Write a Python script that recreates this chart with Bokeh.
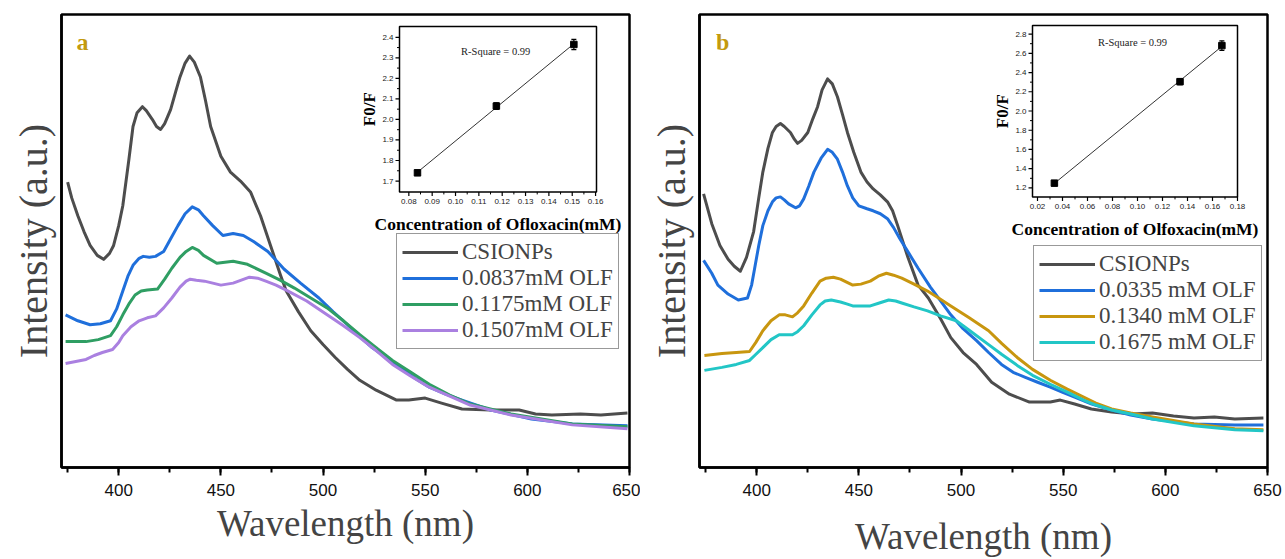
import numpy as np
from bokeh.plotting import figure
from bokeh.models import Range1d, Legend, LegendItem, SingleIntervalTicker, FixedTicker
from bokeh.layouts import row
from bokeh.embed import file_html
from bokeh.resources import INLINE
from bokeh.core.properties import value

# ---------------- data: panel a ----------------
wl_a_cs = [375, 377, 380, 383, 386, 389.5, 392.6, 395.5, 397.5, 400, 402, 405, 407, 409, 411.6, 413.5, 416.5,
           418.5, 420.5, 422.5, 425.4, 428, 430, 432.5, 434.7, 437, 440, 442.5, 445, 450, 454.7, 459.6, 464.5,
           469.4, 474.3, 479.2, 482, 488, 494, 500, 506, 512, 518, 526, 536, 542, 550, 558, 568, 582, 596,
           604, 612, 626, 636, 649]
int_a_cs = [288, 272, 254, 238, 224, 214, 210, 216, 224, 244, 264, 311, 344, 358, 364, 360, 351, 344, 341, 347,
            361, 380, 394, 408, 415, 409, 394, 370, 344, 314, 298, 289, 278, 254, 224, 194, 178, 157, 138, 124,
            111, 99, 88, 78, 68, 68, 70, 65, 59, 58, 58, 54, 53, 54, 53, 55]

wl_a_1 = [374, 380, 386, 391, 396, 399, 402, 404.5, 407, 410, 412, 415, 418, 422, 425.5, 429, 432.5, 436, 439,
          441.5, 446, 451, 456, 461, 466, 473, 481, 489, 498, 505, 512, 518, 524, 531, 538, 545, 552, 560, 568,
          582, 602, 622, 649]
int_a_1 = [154, 148, 144, 145, 148, 160, 178, 193, 204, 211, 213, 212, 213, 218, 231, 244, 256, 263, 260,
           254, 244, 234, 236, 234, 228, 218, 200, 186, 171, 157, 144, 132, 121, 111, 101, 90, 81, 74, 68,
           58, 49, 44, 42]

wl_a_2 = [374, 384, 390, 396, 399, 402, 405, 408, 411, 414, 419, 422.5, 426, 430, 433, 436, 439, 441.5, 448, 456,
          463, 472, 479, 486, 494, 502, 510, 518, 526, 534, 543, 552, 562, 572, 592, 622, 649]
int_a_2 = [127, 127, 129, 133, 142, 154, 165, 174, 178, 179, 180, 190, 201, 212, 218, 222, 219, 214, 206, 208,
           205, 196, 189, 181, 171, 161, 148, 134, 121, 108, 96, 84, 73, 64, 54, 44, 41]

wl_a_3 = [374, 379, 384, 388, 392, 397, 400, 402, 406, 410, 414, 418, 422, 426, 430, 433, 435, 438, 442, 446, 450,
          456, 460, 464, 468, 472, 477, 482, 492, 502, 510, 518, 526, 534, 543, 552, 562, 572, 592, 622, 649]
int_a_3 = [105, 107, 109, 113, 116, 119, 126, 133, 142, 148, 151, 153, 161, 171, 182, 188, 190, 189, 188, 186,
           184, 186, 189, 192, 191, 188, 184, 179, 168, 154, 143, 131, 118, 104, 92, 81, 72, 63, 53, 43, 39]

labels_a = ["CSIONPs", "0.0837mM OLF", "0.1175mM OLF", "0.1507mM OLF"]

conc_a = [0.0837, 0.1175, 0.1507]
ratio_a = [1.74, 2.065, 2.365]
err_a = [0.006, 0.016, 0.025]
xt_a = [0.08, 0.09, 0.10, 0.11, 0.12, 0.13, 0.14, 0.15, 0.16]
xt_a_lab = ["0.08", "0.09", "0.10", "0.11", "0.12", "0.13", "0.14", "0.15", "0.16"]
yt_a = [1.7, 1.8, 1.9, 2.0, 2.1, 2.2, 2.3, 2.4]
yt_a_lab = ["1.7", "1.8", "1.9", "2.0", "2.1", "2.2", "2.3", "2.4"]
xlim_a = [0.076, 0.1604]
ylim_a = [1.647, 2.453]

# ---------------- data: panel b ----------------
wl_b_cs = [374, 378, 382, 386, 389, 392, 395, 398.5, 401, 403, 405.5, 407.7, 409.5, 411.6, 413.5, 416.5, 418.5,
           420, 422, 425, 427.5, 429.8, 432, 434.7, 437, 439.5, 442, 444.4, 447.5, 451, 454, 457, 460.5, 464,
           466.5, 469, 471.5, 474, 479, 484, 490, 495, 501, 507.6, 515, 523.7, 533.5, 543.7, 548.6, 555.6,
           563.8, 573.7, 584, 593.7, 604, 614, 624, 634, 648]
int_b_cs = [276, 246, 224, 210, 203, 198, 212, 238, 272, 298, 322, 338, 344, 347, 344, 338, 331, 327, 330, 338,
            352, 364, 381, 392, 387, 374, 356, 338, 318, 298, 288, 281, 275, 268, 259, 244, 228, 212, 184, 171,
            150, 131, 116, 104, 86, 74, 66, 66, 68, 64, 59, 56, 54, 55, 52, 50, 51, 49, 50]

wl_b_1 = [374, 378, 381, 386, 391, 395.5, 397.5, 399, 401, 403, 405.5, 407.7, 409.5, 411.6, 413.5, 415.6, 419,
          421, 423, 425.5, 428, 431.5, 434.7, 437, 439.5, 442, 444.4, 447, 450, 454, 457, 460.5, 464, 467, 470,
          474.5, 479, 485, 490, 495, 501, 507.6, 513.5, 519.8, 525.5, 531.5, 537.5, 543.7, 549.5, 555.6, 564,
          573.7, 583, 593.7, 614, 634, 648]
int_b_1 = [209, 196, 184, 175, 169, 171, 184, 201, 224, 244, 259, 268, 272, 273, 270, 266, 262, 264, 271, 284,
           298, 312, 321, 318, 311, 298, 284, 272, 264, 261, 259, 256, 251, 242, 231, 216, 201, 182, 168, 154,
           140, 128, 116, 104, 96, 91, 86, 81, 76, 71, 64, 58, 53, 49, 44, 43, 43]

wl_b_2 = [374.4, 383, 390, 396.5, 399.5, 403, 407, 411, 414, 417.5, 420, 423, 427, 431, 434, 437.5, 441, 444,
          447, 451, 455.6, 459.5, 463.5, 467, 471, 477, 483.6, 489, 495, 504, 513.5, 520, 527.5, 535, 543.7,
          552, 560, 566, 573.7, 583, 593.7, 614, 634, 648]
int_b_2 = [113, 115, 116, 117, 126, 138, 148, 154, 154, 152, 156, 163, 176, 188, 191, 192, 190, 187, 184, 185,
           188, 193, 196, 194, 191, 185, 178, 171, 163, 151, 138, 125, 111, 99, 88, 79, 71, 65, 59, 55, 51, 44,
           39, 38]

wl_b_3 = [374.4, 383, 390, 396.5, 399.5, 403, 407, 411, 414, 417.5, 420, 423, 427, 431, 433.5, 436.5, 441, 444,
          447, 451, 455.6, 460, 464.6, 468, 471, 477, 483.6, 490, 497.7, 505, 513.5, 520, 527.5, 535, 543.7,
          552, 560, 566, 573.7, 583, 593.7, 614, 634, 648]
int_b_3 = [98, 101, 104, 108, 114, 121, 129, 134, 134, 134, 137, 143, 154, 164, 168, 169, 167, 165, 163, 163,
           163, 166, 169, 168, 166, 162, 158, 153, 148, 137, 124, 114, 103, 93, 84, 76, 68, 63, 58, 54, 49, 42,
           38, 37]

labels_b = ["CSIONPs", "0.0335 mM OLF", "0.1340 mM OLF", "0.1675 mM OLF"]

conc_b = [0.0335, 0.134, 0.1675]
ratio_b = [1.25, 2.305, 2.68]
err_b = [0.015, 0.03, 0.05]
xt_b = [0.02, 0.04, 0.06, 0.08, 0.10, 0.12, 0.14, 0.16, 0.18]
xt_b_lab = ["0.02", "0.04", "0.06", "0.08", "0.10", "0.12", "0.14", "0.16", "0.18"]
yt_b = [1.2, 1.4, 1.6, 1.8, 2.0, 2.2, 2.4, 2.6, 2.8]
yt_b_lab = ["1.2", "1.4", "1.6", "1.8", "2.0", "2.2", "2.4", "2.6", "2.8"]
xlim_b = [0.016, 0.18]
ylim_b = [1.107, 2.89]

# ---------------- styling ----------------
SERIF = "Liberation Serif"
SANS = "Liberation Sans"
colors_a = ["#4d4d4d", "#1f6fdb", "#2f9e63", "#aa80e0"]
colors_b = ["#4d4d4d", "#1f6fdb", "#c8960f", "#22c6c6"]
FW, FH = 568, 457


def ext_range(d0, d1, p0, p1, total):
    s = (d1 - d0) / (p1 - p0)
    return Range1d(d0 - p0 * s, d1 + (total - p1) * s)


def panel(width, left, right, xstand, series, labels, colors, tag, tagx, leg_loc,
          conc, ratio, err, xt, xtl, yt, ytl, xlim, ylim, box, xlabel, rsq_xy):
    p = figure(width=width, height=559, x_range=Range1d(372, 650), y_range=Range1d(0, 457),
               output_backend="svg", toolbar_location=None,
               min_border_left=left, min_border_right=right, min_border_top=14, min_border_bottom=88)
    p.xgrid.visible = False
    p.ygrid.visible = False
    p.outline_line_color = "black"
    p.outline_line_width = 2.5
    p.outline_line_alpha = 1
    p.background_fill_color = "white"
    p.border_fill_color = "white"

    xa = p.xaxis[0]
    xa.ticker = SingleIntervalTicker(interval=50, num_minor_ticks=2)
    xa.axis_line_width = 2.5
    xa.major_tick_out = 8
    xa.major_tick_in = 0
    xa.minor_tick_out = 5
    xa.minor_tick_in = 0
    xa.major_tick_line_width = 2
    xa.minor_tick_line_width = 2
    xa.major_label_text_font = SANS
    xa.major_label_text_font_size = "17px"
    xa.major_label_text_color = "#111111"
    xa.major_label_standoff = 8
    xa.axis_label = "Wavelength (nm)"
    xa.axis_label_text_font = SERIF
    xa.axis_label_text_font_style = "normal"
    xa.axis_label_text_font_size = "37px"
    xa.axis_label_standoff = xstand

    ya = p.yaxis[0]
    ya.ticker = FixedTicker(ticks=[])
    ya.axis_line_width = 2.5
    ya.major_tick_out = 0
    ya.minor_tick_out = 0
    ya.axis_label = "Intensity (a.u.)"
    ya.axis_label_text_font = SERIF
    ya.axis_label_text_font_style = "normal"
    ya.axis_label_text_font_size = "40px"
    ya.axis_label_standoff = 6

    items = []
    for (wl, it), lab, c in zip(series, labels, colors):
        r = p.line(wl, it, line_color=c, line_width=3, line_join="round")
        items.append(LegendItem(label=lab, renderers=[r]))
    leg = Legend(items=items, location=leg_loc, label_text_font=SERIF, label_text_font_size="23px",
                 glyph_width=56, glyph_height=22, label_height=26, spacing=0, padding=5, margin=0,
                 label_standoff=4, border_line_color="#333333", border_line_width=1,
                 background_fill_color="white", background_fill_alpha=1)
    p.add_layout(leg)

    p.text(x=[tagx], y=[429], text=[tag], text_font=value(SERIF), text_font_style="bold",
           text_font_size="24px", text_color="#c39a0e", text_align="center", text_baseline="middle")

    # ---- inset ----
    bl, br, bt, bb = box
    p.extra_x_ranges = {"ix": ext_range(xlim[0], xlim[1], bl, br, FW)}
    p.extra_y_ranges = {"iy": ext_range(ylim[0], ylim[1], FH - bb, FH - bt, FH)}
    kw = dict(x_range_name="ix", y_range_name="iy")
    p.quad(left=[xlim[0]], right=[xlim[1]], bottom=[ylim[0]], top=[ylim[1]], fill_color="white",
           line_color="black", line_width=1.5, **kw)
    nx, ny = len(xt), len(yt)
    p.ray(x=xt, y=[ylim[0]] * nx, length=4, length_units="screen", angle=-np.pi / 2,
          line_color="black", line_width=1.2, **kw)
    xm = [(a + b) / 2 for a, b in zip(xt[:-1], xt[1:])]
    p.ray(x=xm, y=[ylim[0]] * len(xm), length=2.5, length_units="screen", angle=-np.pi / 2,
          line_color="black", line_width=1, **kw)
    p.ray(x=[xlim[0]] * ny, y=yt, length=4, length_units="screen", angle=np.pi,
          line_color="black", line_width=1.2, **kw)
    ym = [(a + b) / 2 for a, b in zip(yt[:-1], yt[1:])]
    p.ray(x=[xlim[0]] * len(ym), y=ym, length=2.5, length_units="screen", angle=np.pi,
          line_color="black", line_width=1, **kw)
    p.text(x=xt, y=[ylim[0]] * nx, text=xtl, y_offset=7, text_align="center", text_baseline="top",
           text_font=value(SANS), text_font_size="8px", text_color="#222222", **kw)
    p.text(x=[xlim[0]] * ny, y=yt, text=ytl, x_offset=-6, text_align="right", text_baseline="middle",
           text_font=value(SANS), text_font_size="8px", text_color="#222222", **kw)
    p.text(x=[(xlim[0] + xlim[1]) / 2], y=[ylim[0]], text=[xlabel], y_offset=22, text_align="center",
           text_baseline="top", text_font=value(SERIF), text_font_style="bold", text_font_size="17.5px",
           text_color="black", **kw)
    p.text(x=[xlim[0]], y=[(ylim[0] + ylim[1]) / 2], text=["F0/F"], x_offset=-30,
           angle=np.pi / 2, text_align="center", text_baseline="middle", text_font=value(SERIF),
           text_font_style="bold", text_font_size="17px", text_color="black", **kw)
    p.text(x=[rsq_xy[0]], y=[rsq_xy[1]], text=["R-Square = 0.99"], text_align="center",
           text_baseline="middle", text_font=value(SERIF), text_font_size="10.5px", text_color="#222222", **kw)

    coef = np.polyfit(conc, ratio, 1)
    fx = [conc[0], conc[-1]]
    p.line(fx, [coef[0] * v + coef[1] for v in fx], line_color="#333333", line_width=1, **kw)
    lo = [r - e for r, e in zip(ratio, err)]
    hi = [r + e for r, e in zip(ratio, err)]
    p.segment(x0=conc, y0=lo, x1=conc, y1=hi, line_color="black", line_width=1.2, **kw)
    p.scatter(x=conc + conc, y=lo + hi, marker="dash", size=5, line_color="black", line_width=1.2, **kw)
    p.scatter(x=conc, y=ratio, marker="square", size=6.5, fill_color="black", line_color="black", **kw)
    return p


pa = panel(640, 61, 11, 4,
           [(wl_a_cs, int_a_cs), (wl_a_1, int_a_1), (wl_a_2, int_a_2), (wl_a_3, int_a_3)],
           labels_a, colors_a, "a", 382.3, (335, 118),
           conc_a, ratio_a, err_a, xt_a, xt_a_lab, yt_a, yt_a_lab, xlim_a, ylim_a,
           (338, 535, 12, 179), "Concentration of Ofloxacin(mM)", (0.1172, 2.332))

pb = panel(645, 59, 18, 17,
           [(wl_b_cs, int_b_cs), (wl_b_1, int_b_1), (wl_b_2, int_b_2), (wl_b_3, int_b_3)],
           labels_b, colors_b, "b", 383.3, (334, 106),
           conc_b, ratio_b, err_b, xt_b, xt_b_lab, yt_b, yt_b_lab, xlim_b, ylim_b,
           (333, 538, 11, 184), "Concentration of Olfoxacin(mM)", (0.096, 2.714))

layout = row(pa, pb)
open("out.html", "w").write(file_html(layout, INLINE))
